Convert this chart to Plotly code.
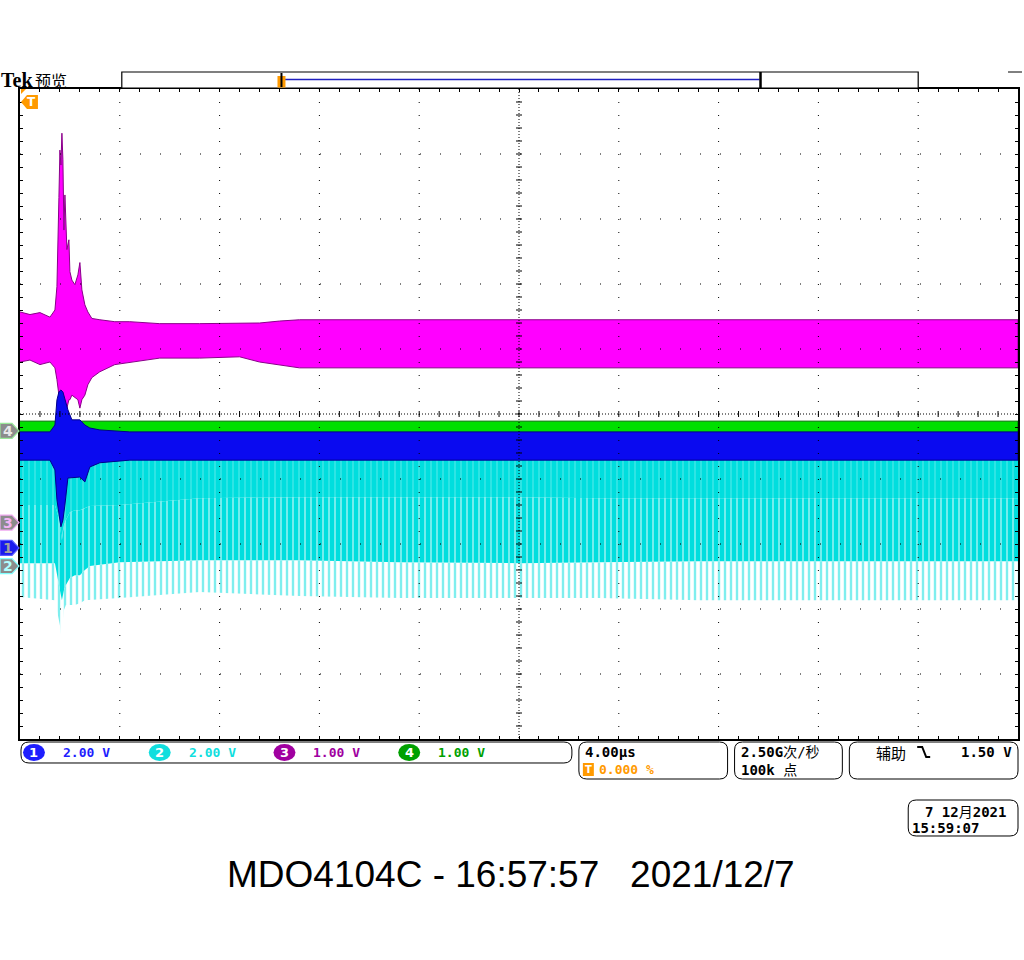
import plotly.graph_objects as go

# ---------------- screen geometry (graticule box in pixels) ----------------
W, H = 1024, 960
GL, GR, GT, GB = 20, 1020, 89, 739
N_HDIV, N_VDIV = 10, 10
T_PER_DIV = 4.0          # µs/div
T_SPAN = T_PER_DIV * N_HDIV

# ---------------- channel settings ----------------
ch_scale = {1: 2.0, 2: 2.0, 3: 1.0, 4: 1.0}          # V/div
ch_pos = {1: -2.06, 2: -2.34, 3: -1.67, 4: -0.26}     # ground marker, divisions from centre
ch_color = {1: "#0a0af0", 2: "#00dede", 3: "#ff00ff", 4: "#00e000"}
ch_edge = {1: "#00008c", 2: "#00b8b8", 3: "#8a008a", 4: "#007000"}
ch_text = {1: "#1e1efe", 2: "#10dede", 3: "#a000a0", 4: "#00a000"}
ch_labels = ["2.00 V", "2.00 V", "1.00 V", "1.00 V"]

# ---------------- waveform envelopes (µs, V) ----------------
# CH3 (magenta)
ch3_t = [0, 0.4, 0.8, 1.2, 1.4, 1.48, 1.56, 1.6, 1.64, 1.68, 1.72, 1.76, 1.8, 1.88, 1.96, 2.0,
         2.08, 2.2, 2.32, 2.4, 2.48, 2.6, 2.72, 2.88, 3.2, 3.8, 4.4, 5.6, 7.2, 8.8, 9.6, 10.4, 11.2, 40]
ch3_hi = [3.24, 3.20, 3.23, 3.16, 3.27, 3.63, 5.00, 5.73, 5.50, 5.99, 5.58, 4.50, 5.04, 4.20, 4.35, 3.86,
          3.73, 3.66, 3.81, 4.00, 3.58, 3.35, 3.24, 3.14, 3.12, 3.09, 3.09, 3.06, 3.06, 3.06, 3.07, 3.10, 3.12, 3.12]
ch3_lo = [2.47, 2.50, 2.43, 2.47, 2.38, 2.20, 1.96, 1.89, 1.81, 1.73, 1.81, 1.89, 1.81, 1.76, 1.89, 1.89,
          1.96, 1.92, 1.89, 1.76, 1.89, 1.96, 2.12, 2.23, 2.32, 2.43, 2.47, 2.53, 2.53, 2.55, 2.47, 2.43, 2.38, 2.38]

# CH4 (green)
ch4_t = [0, 40]
ch4_hi = [0.15, 0.15]
ch4_lo = [-0.03, -0.03]

# CH1 (blue)
ch1_t = [0, 1.2, 1.4, 1.48, 1.56, 1.64, 1.72, 1.8, 1.92, 2.08, 2.4, 2.6, 2.8, 3.2, 4.4, 40]
ch1_hi = [3.57, 3.57, 3.78, 4.55, 4.80, 4.86, 4.80, 4.55, 4.25, 3.94, 3.94, 3.78, 3.69, 3.63, 3.57, 3.57]
ch1_lo = [2.70, 2.70, 2.40, 1.48, 1.02, 0.65, 0.86, 1.32, 2.15, 2.15, 2.18, 2.03, 2.49, 2.62, 2.70, 2.70]

# CH2 (cyan pulse train): top, dense-zone bottom, stripe-zone bottom, tip bottom
ch2_t = [0, 1.4, 1.52, 1.6, 1.68, 1.72, 1.76, 1.84, 2.0, 2.2, 2.4, 2.6, 2.8, 4.0, 7.2, 11.2,
         15.2, 20, 23.2, 27.2, 31.2, 40]
ch2_top = [3.30] * 22
ch2_dense = [1.88, 1.88, 1.57, 1.26, 0.80, 1.11, 1.26, 1.42, 1.66, 1.72, 1.72, 1.78, 1.85, 1.88, 2.09, 2.12,
             2.12, 2.12, 2.09, 2.09, 2.09, 2.09]
ch2_stripe = [0.09, 0.09, -0.43, -0.74, -1.05, -0.89, -0.74, -0.58, -0.37, -0.28, -0.28, -0.12, 0.00, 0.12,
              0.18, 0.18, 0.12, 0.09, 0.12, 0.15, 0.15, 0.15]
ch2_tip = [-0.95, -1.05, -1.51, -1.82, -2.37, -1.66, -1.35, -1.20, -1.20, -1.20, -1.14, -1.05, -1.05, -0.98,
           -0.80, -0.92, -0.98, -0.98, -0.98, -1.05, -1.05, -1.05]


def px(x):
    return (x - GL) / (GR - GL)


def py(y):
    return (GB - y) / (GB - GT)


def band(t, hi, lo):
    return list(t) + list(t)[::-1], list(hi) + list(lo)[::-1]


# overlay order decides drawing order: cyan, green, magenta, blue (on top)
axis_of = {2: "y2", 4: "y3", 3: "y4", 1: "y5"}

fig = go.Figure()


def add_band(ch, t, hi, lo, fillcolor=None, pattern=None, edge=None):
    xs, ys = band(t, hi, lo)
    kw = dict(x=xs, y=ys, yaxis=axis_of[ch], mode="lines", fill="toself",
              line=dict(width=1 if edge else 0, color=edge or "rgba(0,0,0,0)"),
              hoverinfo="skip", showlegend=False)
    if pattern:
        kw["fillpattern"] = pattern
        kw["fillcolor"] = fillcolor or "rgba(0,0,0,0)"
    else:
        kw["fillcolor"] = fillcolor
    fig.add_trace(go.Scatter(**kw))


# CH2 cyan layers
add_band(2, ch2_t, ch2_stripe, ch2_tip,
         pattern=dict(shape="|", fgcolor=ch_color[2], bgcolor="rgba(255,255,255,0)", size=6, solidity=0.4))
add_band(2, ch2_t, ch2_dense, ch2_stripe,
         pattern=dict(shape="|", fgcolor="#ffffff", bgcolor=ch_color[2], size=6, solidity=0.3))
add_band(2, ch2_t, ch2_top, ch2_dense,
         pattern=dict(shape="|", fgcolor="#ffffff", bgcolor=ch_color[2], size=6, solidity=0.12))
# CH4 green
add_band(4, ch4_t, ch4_hi, ch4_lo, fillcolor=ch_color[4], edge=ch_edge[4])
# CH3 magenta
add_band(3, ch3_t, ch3_hi, ch3_lo, fillcolor=ch_color[3], edge=ch_edge[3])
# CH1 blue
add_band(1, ch1_t, ch1_hi, ch1_lo, fillcolor=ch_color[1], edge=ch_edge[1])

shapes = []
ann = []

# ---------------- graticule (drawn above traces) ----------------
for k in range(1, N_HDIV):
    if k == N_HDIV // 2:
        continue
    shapes.append(dict(type="line", xref="x", yref="paper", x0=k * T_PER_DIV, x1=k * T_PER_DIV, y0=1, y1=0,
                       line=dict(color="black", width=1, dash="1px,12px"), layer="above"))
for k in range(-4, 5):
    if k == 0:
        continue
    shapes.append(dict(type="line", xref="paper", yref="y", x0=0, x1=1, y0=k, y1=k,
                       line=dict(color="black", width=1, dash="1px,19px"), layer="above"))
# centre crosshair
shapes.append(dict(type="line", xref="x", yref="paper", x0=T_SPAN / 2, x1=T_SPAN / 2, y0=1, y1=0,
                   line=dict(color="black", width=1, dash="1px,2px"), layer="above"))
shapes.append(dict(type="line", xref="paper", yref="y", x0=0, x1=1, y0=0, y1=0,
                   line=dict(color="black", width=1, dash="1px,2px"), layer="above"))
for i in range(1, N_VDIV * 5):
    yv = -5 + i * 0.2
    shapes.append(dict(type="line", xref="x", yref="y", xsizemode="pixel", xanchor=T_SPAN / 2,
                       x0=-3, x1=3, y0=yv, y1=yv, line=dict(color="black", width=1), layer="above"))
for i in range(1, N_HDIV * 5):
    xv = i * T_PER_DIV / 5
    shapes.append(dict(type="line", xref="x", yref="y", ysizemode="pixel", yanchor=0,
                       x0=xv, x1=xv, y0=-3, y1=3, line=dict(color="black", width=1), layer="above"))

# ---------------- channel ground markers on left ----------------
mk_style = {
    4: dict(fill="#8c8c8c", line="#98e898", txt="#e8e8e8"),
    3: dict(fill="#8c8c8c", line="#f0a8f0", txt="#f4b4f4"),
    1: dict(fill="#1a1aee", line="#5a5aff", txt="#a0a0a0"),
    2: dict(fill="#8c8c8c", line="#80ffff", txt="#b0ffff"),
}
for ch in (4, 3, 1, 2):
    st = mk_style[ch]
    shapes.append(dict(type="path", xref="paper", yref=axis_of[ch], xsizemode="pixel", ysizemode="pixel",
                       xanchor=0, yanchor=0, path="M -20,7.5 L -8,7.5 L -1,0 L -8,-7.5 L -20,-7.5 Z",
                       fillcolor=st["fill"], line=dict(color=st["line"], width=1.2), layer="above"))
    ann.append(dict(xref="paper", yref=axis_of[ch], x=0, y=0, xshift=-12, text="<b>%d</b>" % ch,
                    showarrow=False, font=dict(family="DejaVu Sans", size=14, color=st["txt"]),
                    xanchor="center", yanchor="middle"))

# trigger marker (top-left, orange)
ORANGE = "#ff9a00"


def ppath(pts, close=True):
    s = "M " + " L ".join(f"{px(a):.5f},{py(b):.5f}" for a, b in pts)
    return s + (" Z" if close else "")


shapes.append(dict(type="path", xref="paper", yref="paper",
                   path=ppath([(21, 102), (27, 95), (38, 95), (38, 109), (27, 109)]),
                   fillcolor=ORANGE, line=dict(width=0), layer="above"))
ann.append(dict(xref="paper", yref="paper", x=px(31.5), y=py(102), text="<b>T</b>", showarrow=False,
                font=dict(family="DejaVu Sans", size=12, color="white"), xanchor="center", yanchor="middle"))
shapes.append(dict(type="path", xref="paper", yref="paper",
                   path=ppath([(21, 89), (26, 89), (21, 94)]), fillcolor=ORANGE, line=dict(width=0),
                   layer="above"))

# ---------------- header: Tek 预览 and record view ----------------
ann.append(dict(xref="paper", yref="paper", x=px(-1), y=py(80), text="<b>Tek</b>", showarrow=False,
                font=dict(family="Liberation Serif", size=20, color="black"), xanchor="left",
                yanchor="middle"))
ann.append(dict(xref="paper", yref="paper", x=px(33), y=py(80), text="预览", showarrow=False,
                font=dict(family="Noto Sans CJK SC", size=16, color="black"), xanchor="left",
                yanchor="middle"))
shapes.append(dict(type="rect", xref="paper", yref="paper", x0=px(122), x1=px(920), y0=py(72), y1=py(88),
                   line=dict(color="black", width=1.2), fillcolor="white"))
shapes.append(dict(type="line", xref="paper", yref="paper", x0=px(285), x1=px(761), y0=py(79.5), y1=py(79.5),
                   line=dict(color="#2020c0", width=1.5)))
shapes.append(dict(type="line", xref="paper", yref="paper", x0=px(762), x1=px(762), y0=py(72), y1=py(88),
                   line=dict(color="black", width=2.5)))
shapes.append(dict(type="rect", xref="paper", yref="paper", x0=px(278), x1=px(286), y0=py(76), y1=py(87.5),
                   line=dict(width=0), fillcolor=ORANGE))
shapes.append(dict(type="line", xref="paper", yref="paper", x0=px(282), x1=px(282), y0=py(73), y1=py(87),
                   line=dict(color="black", width=2)))
shapes.append(dict(type="line", xref="paper", yref="paper", x0=px(1010), x1=px(1024), y0=py(72), y1=py(72),
                   line=dict(color="black", width=1)))


# ---------------- bottom readouts ----------------
def rrect(x0, y0, x1, y1, r):
    P = lambda a, b: f"{px(a):.5f},{py(b):.5f}"
    return (f"M {P(x0 + r, y0)} L {P(x1 - r, y0)} Q {P(x1, y0)} {P(x1, y0 + r)} L {P(x1, y1 - r)} "
            f"Q {P(x1, y1)} {P(x1 - r, y1)} L {P(x0 + r, y1)} Q {P(x0, y1)} {P(x0, y1 - r)} "
            f"L {P(x0, y0 + r)} Q {P(x0, y0)} {P(x0 + r, y0)} Z")


for (x0, y0, x1, y1) in [(21, 742, 573, 763), (580, 742, 729, 779), (736, 742, 844, 779),
                         (851, 742, 1020, 779), (910, 800, 1020, 836)]:
    shapes.append(dict(type="path", xref="paper", yref="paper", path=rrect(x0, y0, x1, y1, 8),
                       line=dict(color="black", width=1), fillcolor="rgba(0,0,0,0)"))

FONT = "DejaVu Sans Mono, Noto Sans CJK SC"
badge_x = {1: 34, 2: 160, 3: 285, 4: 410}
for ch in (1, 2, 3, 4):
    bx = badge_x[ch]
    shapes.append(dict(type="circle", xref="paper", yref="paper", x0=px(bx - 11), x1=px(bx + 11),
                       y0=py(744), y1=py(761), line=dict(width=0), fillcolor=ch_text[ch]))
    ann.append(dict(xref="paper", yref="paper", x=px(bx), y=py(752.5), text="<b>%d</b>" % ch, showarrow=False,
                    font=dict(family="DejaVu Sans", size=13, color="white"), xanchor="center",
                    yanchor="middle"))
    ann.append(dict(xref="paper", yref="paper", x=px(bx + 27), y=py(752.5), text="<b>%s</b>" % ch_labels[ch - 1],
                    showarrow=False, font=dict(family=FONT, size=13, color=ch_text[ch]),
                    xanchor="left", yanchor="middle"))

ann.append(dict(xref="paper", yref="paper", x=px(584), y=py(752), text="<b>4.00µs</b>", showarrow=False,
                font=dict(family=FONT, size=14, color="black"), xanchor="left", yanchor="middle"))
shapes.append(dict(type="rect", xref="paper", yref="paper", x0=px(584), x1=px(595), y0=py(763), y1=py(776),
                   line=dict(width=0), fillcolor=ORANGE))
ann.append(dict(xref="paper", yref="paper", x=px(589.5), y=py(769.5), text="<b>T</b>", showarrow=False,
                font=dict(family="DejaVu Sans", size=10, color="white"), xanchor="center", yanchor="middle"))
ann.append(dict(xref="paper", yref="paper", x=px(598), y=py(769.5), text="<b>0.000 %</b>", showarrow=False,
                font=dict(family=FONT, size=13, color=ORANGE), xanchor="left", yanchor="middle"))
ann.append(dict(xref="paper", yref="paper", x=px(740), y=py(752), text="<b>2.50G</b>次/秒", showarrow=False,
                font=dict(family=FONT, size=14, color="black"), xanchor="left", yanchor="middle"))
ann.append(dict(xref="paper", yref="paper", x=px(740), y=py(769.5), text="<b>100k</b> 点", showarrow=False,
                font=dict(family=FONT, size=14, color="black"), xanchor="left", yanchor="middle"))
ann.append(dict(xref="paper", yref="paper", x=px(876), y=py(752), text="辅助", showarrow=False,
                font=dict(family="Noto Sans CJK SC", size=15, color="black"), xanchor="left",
                yanchor="middle"))
shapes.append(dict(type="path", xref="paper", yref="paper",
                   path=ppath([(919, 747), (924, 747), (928, 757), (932, 757)], close=False),
                   line=dict(color="black", width=2), fillcolor="rgba(0,0,0,0)"))
ann.append(dict(xref="paper", yref="paper", x=px(1016), y=py(752), text="<b>1.50 V</b>", showarrow=False,
                font=dict(family=FONT, size=14, color="black"), xanchor="right", yanchor="middle"))
ann.append(dict(xref="paper", yref="paper", x=px(925), y=py(811.5), text="<b>7 12</b>月<b>2021</b>",
                showarrow=False, font=dict(family=FONT, size=14, color="black"), xanchor="left",
                yanchor="middle"))
ann.append(dict(xref="paper", yref="paper", x=px(912), y=py(828), text="<b>15:59:07</b>", showarrow=False,
                font=dict(family=FONT, size=14, color="black"), xanchor="left", yanchor="middle"))

# big caption
ann.append(dict(xref="paper", yref="paper", x=px(512), y=py(875),
                text="MDO4104C - 16:57:57   2021/12/7", showarrow=False,
                font=dict(family="Liberation Sans, Arial", size=37, color="black"),
                xanchor="center", yanchor="middle"))


def ch_range(ch):
    s, p = ch_scale[ch], ch_pos[ch]
    return [(-N_VDIV / 2 - p) * s, (N_VDIV / 2 - p) * s]


layout = dict(
    width=W, height=H,
    margin=dict(l=GL, r=W - GR, t=GT, b=H - GB, pad=0),
    paper_bgcolor="white", plot_bgcolor="white",
    showlegend=False,
    xaxis=dict(range=[0, T_SPAN], showgrid=False, zeroline=False, showticklabels=False,
               showline=True, linecolor="black", linewidth=2, mirror="allticks",
               ticks="inside", ticklen=3, tickcolor="black", dtick=T_PER_DIV, tick0=0,
               minor=dict(dtick=T_PER_DIV / 5, ticks="inside", ticklen=3, tickcolor="black"),
               layer="above traces", fixedrange=True),
    yaxis=dict(range=[-N_VDIV / 2, N_VDIV / 2], showgrid=False, zeroline=False, showticklabels=False,
               showline=True, linecolor="black", linewidth=2, mirror="allticks",
               ticks="inside", ticklen=3, tickcolor="black", dtick=1, tick0=0,
               minor=dict(dtick=0.2, ticks="inside", ticklen=3, tickcolor="black"),
               layer="above traces", fixedrange=True),
    shapes=shapes,
    annotations=ann,
)
for ch in (1, 2, 3, 4):
    layout["yaxis" + axis_of[ch][1:]] = dict(overlaying="y", range=ch_range(ch), visible=False,
                                             fixedrange=True)

fig.update_layout(**layout)
fig.write_html("out.html")
